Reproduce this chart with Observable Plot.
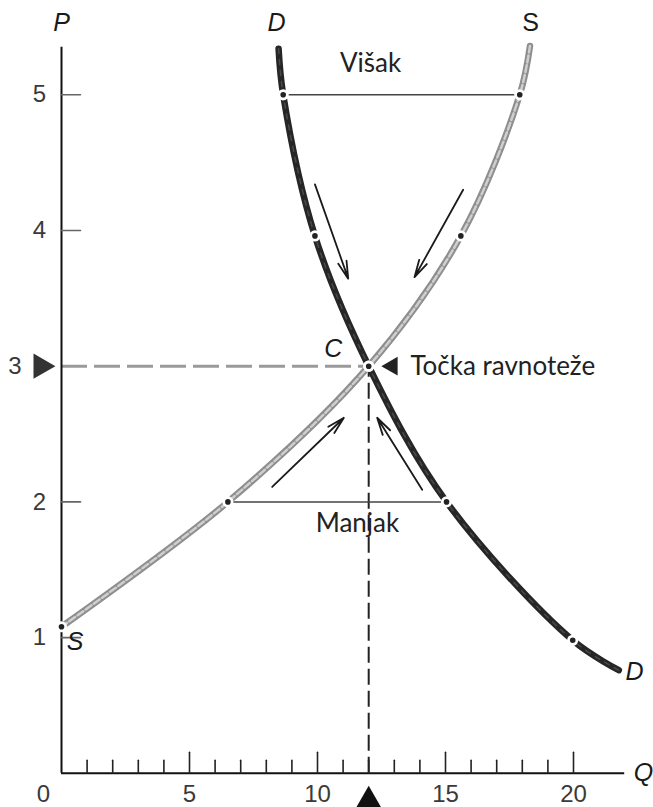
<!DOCTYPE html>
<html>
<head>
<meta charset="utf-8">
<script src="https://cdn.jsdelivr.net/npm/d3@7"></script>
<script src="https://cdn.jsdelivr.net/npm/@observablehq/plot@0.6"></script>
<style>
  html, body { margin: 0; padding: 0; background: #fff; }
  #chart svg { display: block; }
</style>
</head>
<body>
<div id="chart"></div>
<script>
// ---- Data ----
// Supply curve S: marked points (Q, P) and the unmarked top end
const supplyQ = [0, 6.5, 12, 15.6, 17.9];
const supplyP = [1.08, 2, 3, 3.96, 5];
const supplyEndQ = 18.3;
const supplyEndP = 5.36;

// Demand curve D: unmarked top start, marked points, unmarked lower end
const demandStartQ = 8.48;
const demandStartP = 5.34;
const demandQ = [8.66, 9.9, 12, 15.04, 19.97];
const demandP = [5, 3.96, 3, 2, 0.98];
const demandEndQ = 21.77;
const demandEndP = 0.76;

// Equilibrium point C
const eqQ = 12;
const eqP = 3;

// Surplus (Višak) at P = 5 and shortage (Manjak) at P = 2
const gapP = [5, 2];
const gapQfrom = [8.66, 6.5];
const gapQto = [17.9, 15.04];

// Adjustment arrows
const arrowQ1 = [9.9, 15.69, 8.23, 14.09];
const arrowP1 = [4.34, 4.30, 2.11, 2.09];
const arrowQ2 = [11.2, 13.79, 11.03, 12.33];
const arrowP2 = [3.645, 3.656, 2.62, 2.62];

// Axes
const qMax = 22;
const pMax = 5.35;
const qMajorTicks = [5, 10, 15, 20];
const qMinorTicks = [1, 2, 3, 4, 6, 7, 8, 9, 11, 12, 13, 14, 16, 17, 18, 19];
const pTicks = [1, 2, 4, 5];
const pTickLabels = ["1", "2", "4", "5"];
const qTickLabels = ["5", "10", "15", "20"];

// Text annotations (label, Q, P)
const noteLabels = ["Višak", "Manjak", "Točka ravnoteže"];
const noteQ = [12.07, 11.56, 13.63];
const noteP = [5.23, 1.84, 3.0];
const letterLabels = ["P", "D", "S", "S", "D", "Q", "C"];
const letterQ = [0, 8.4, 18.32, 0.53, 22.38, 22.73, 10.62];
const letterP = [5.53, 5.53, 5.53, 0.97, 0.75, 0, 3.13];
const letterItalic = [true, true, false, true, true, true, true];

// ---- Build tables ----
const supplyCurve = supplyQ.map((q, i) => ({q, p: supplyP[i]}))
  .concat([{q: supplyEndQ, p: supplyEndP}]);
const demandCurve = [{q: demandStartQ, p: demandStartP}]
  .concat(demandQ.map((q, i) => ({q, p: demandP[i]})))
  .concat([{q: demandEndQ, p: demandEndP}]);
const dots = supplyQ.map((q, i) => ({q, p: supplyP[i]}))
  .concat(demandQ.map((q, i) => ({q, p: demandP[i]})));
const gaps = gapP.map((p, i) => ({p, q1: gapQfrom[i], q2: gapQto[i]}));
const arrows = arrowQ1.map((q, i) => ({q1: q, p1: arrowP1[i], q2: arrowQ2[i], p2: arrowP2[i]}));
const notes = noteLabels.map((t, i) => ({t, q: noteQ[i], p: noteP[i]}));
const letters = letterLabels.map((t, i) => ({t, q: letterQ[i], p: letterP[i], it: letterItalic[i]}));
const eq = [{q: eqQ, p: eqP}];

const tickShape = {draw(ctx, l) { ctx.moveTo(0, 0); ctx.lineTo(0, -l); }};
const numFont = "Liberation Sans, Arial, Helvetica, sans-serif";
const noteFont = "Lato, Open Sans, sans-serif";

const chart = Plot.plot({
  width: 653,
  height: 807,
  marginLeft: 61,
  marginRight: 28.8,
  marginTop: 46.8,
  marginBottom: 34.2,
  x: {domain: [0, qMax], axis: null},
  y: {domain: [0, pMax], axis: null},
  style: {background: "#fff", overflow: "visible"},
  marks: [
    // dashed guide lines to equilibrium
    Plot.ruleY(eq, {y: "p", x1: 0, x2: "q", stroke: "#9a9a9a", strokeWidth: 3, strokeDasharray: "26,7"}),
    Plot.ruleX(eq, {x: "q", y1: 0, y2: "p", stroke: "#222", strokeWidth: 2, strokeDasharray: "16,6"}),
    // surplus & shortage lines
    Plot.link(gaps, {x1: "q1", x2: "q2", y1: "p", y2: "p", stroke: "#444", strokeWidth: 1.5}),
    // axes
    Plot.ruleY([0], {x1: 0, x2: qMax, stroke: "#111", strokeWidth: 2}),
    Plot.ruleX([0], {y1: 0, y2: pMax, stroke: "#111", strokeWidth: 2}),
    Plot.vector(qMinorTicks, {x: d => d, y: 0, length: 13, rotate: 0, anchor: "start", shape: tickShape, stroke: "#222", strokeWidth: 1.6}),
    Plot.vector(qMajorTicks, {x: d => d, y: 0, length: 21, rotate: 0, anchor: "start", shape: tickShape, stroke: "#222", strokeWidth: 1.6}),
    Plot.vector(pTicks, {x: 0, y: d => d, length: 19, rotate: 90, anchor: "start", shape: tickShape, stroke: "#666", strokeWidth: 1.6}),
    // tick labels
    Plot.text(qMajorTicks, {x: d => d, y: 0, text: (d, i) => qTickLabels[i], dy: 21, fontSize: 24, fontFamily: numFont, fill: "#3a3a3a"}),
    Plot.text([0], {x: 0, y: 0, text: () => "0", dx: -18, dy: 21, fontSize: 24, fontFamily: numFont, fill: "#3a3a3a"}),
    Plot.text(pTicks, {x: 0, y: d => d, text: (d, i) => pTickLabels[i], dx: -22, fontSize: 24, fontFamily: numFont, fill: "#3a3a3a"}),
    Plot.text(eq, {x: 0, y: "p", text: () => "3", dx: -40, textAnchor: "end", fontSize: 24, fontFamily: numFont, fill: "#3a3a3a"}),
    // curves
    Plot.line(supplyCurve, {x: "q", y: "p", curve: "catmull-rom", stroke: "#8e8e8e", strokeWidth: 6.5}),
    Plot.line(supplyCurve, {x: "q", y: "p", curve: "catmull-rom", stroke: "#cfcfcf", strokeWidth: 2.5, strokeDasharray: "7,3"}),
    Plot.line(demandCurve, {x: "q", y: "p", curve: "catmull-rom", stroke: "#262626", strokeWidth: 6.5}),
    Plot.line(demandCurve, {x: "q", y: "p", curve: "catmull-rom", stroke: "#4a4a4a", strokeWidth: 1.5, strokeDasharray: "5,6"}),
    // adjustment arrows
    Plot.arrow(arrows, {x1: "q1", y1: "p1", x2: "q2", y2: "p2", stroke: "#1a1a1a", strokeWidth: 1.8, headLength: 15, headAngle: 28}),
    // points
    Plot.dot(dots, {x: "q", y: "p", r: 4.2, fill: "#222", stroke: "#fff", strokeWidth: 2.8}),
    // triangle markers
    Plot.dot(eq, {x: 0, y: "p", symbol: "triangle", rotate: 90, r: 9.4, dx: -20.7, fill: "#333"}),
    Plot.dot(eq, {x: "q", y: 0, symbol: "triangle", rotate: 0, r: 9.3, dy: 27, fill: "#111"}),
    Plot.dot(eq, {x: "q", y: "p", symbol: "triangle", rotate: -90, r: 7, dx: 23.5, fill: "#222"}),
    // labels
    Plot.text(notes.slice(0, 2), {x: "q", y: "p", text: "t", fontSize: 26, fontFamily: noteFont, fill: "#222"}),
    Plot.text(notes.slice(2), {x: "q", y: "p", text: "t", textAnchor: "start", fontSize: 26, fontFamily: noteFont, fill: "#222"}),
    Plot.text(letters.filter(d => d.it), {x: "q", y: "p", text: "t", fontSize: 25, fontStyle: "italic", fontFamily: numFont, fill: "#1a1a1a"}),
    Plot.text(letters.filter(d => !d.it), {x: "q", y: "p", text: "t", fontSize: 25, fontFamily: numFont, fill: "#1a1a1a"})
  ]
});
document.getElementById("chart").appendChild(chart);
</script>
</body>
</html>
